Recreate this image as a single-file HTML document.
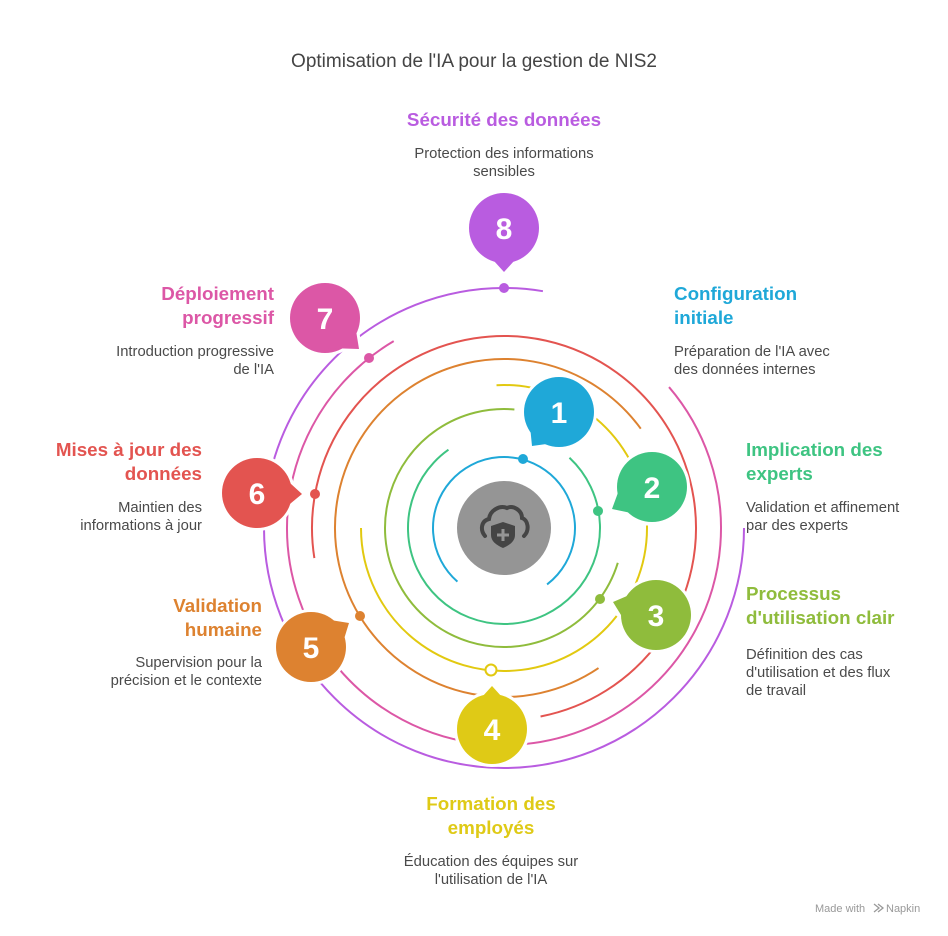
<!DOCTYPE html>
<html><head><meta charset="utf-8"><style>
body{margin:0;background:#fff;}
svg{display:block;font-family:"Liberation Sans",sans-serif;}
.h{font-weight:bold;font-size:18.8px;}
.d{font-size:14.8px;fill:#4a4a4a;}
.n{font-weight:bold;font-size:30px;fill:#fff;text-anchor:middle;}
</style></head><body>
<svg width="948" height="936" viewBox="0 0 948 936" xmlns="http://www.w3.org/2000/svg">
<rect width="948" height="936" fill="#fff"/>
<text x="474" y="67" text-anchor="middle" font-size="19" fill="#444">Optimisation de l'IA pour la gestion de NIS2</text>

<g fill="none" stroke-width="2" transform="translate(504 528)">
<circle r="71" pathLength="360" stroke="#1fa8d8" stroke-dasharray="282 400" transform="rotate(131)"/>
<circle r="96" pathLength="360" stroke="#3ec482" stroke-dasharray="282 400" transform="rotate(-47)"/>
<circle r="119" pathLength="360" stroke="#8fbc3c" stroke-dasharray="258 400" transform="rotate(17)"/>
<circle r="143" pathLength="360" stroke="#e2c910" stroke-dasharray="14 400" transform="rotate(-93)"/>
<circle r="143" pathLength="360" stroke="#e2c910" stroke-dasharray="22 400" transform="rotate(-50)"/>
<circle r="143" pathLength="360" stroke="#e2c910" stroke-dasharray="24 400" transform="rotate(-1)"/>
<circle r="143" pathLength="360" stroke="#e2c910" stroke-dasharray="142 400" transform="rotate(38)"/>
<circle r="169" pathLength="360" stroke="#dd8230" stroke-dasharray="268 400" transform="rotate(56)"/>
<circle r="192" pathLength="360" stroke="#e35450" stroke-dasharray="268 400" transform="rotate(171)"/>
<circle r="217" pathLength="360" stroke="#dc57a6" stroke-dasharray="280 400" transform="rotate(-40.5)"/>
<circle r="240" pathLength="360" stroke="#b95ce0" stroke-dasharray="279.4 400"/>
</g>

<circle cx="504" cy="528" r="47" fill="#959595"/>
<path d="M485 536 C480 530 481 521 489 519 C490 510 500 505 507 508 C513 505 522 510 522 518 C528 520 530 530 524 536" fill="none" stroke="#454545" stroke-width="4" stroke-linecap="round"/>
<path d="M503 522 L515 526 L515 535 C515 541 510 545 503 548 C496 545 491 541 491 535 L491 526 Z" fill="#454545"/>
<path d="M503 529 V541 M497 535 H509" stroke="#959595" stroke-width="3"/>

<circle cx="523" cy="459" r="5" fill="#1fa8d8"/>
<circle cx="598" cy="511" r="5" fill="#3ec482"/>
<circle cx="600" cy="599" r="5" fill="#8fbc3c"/>
<circle cx="491" cy="670" r="5.5" fill="#fff" stroke="#e2c910" stroke-width="2"/>
<circle cx="360" cy="616" r="5" fill="#dd8230"/>
<circle cx="315" cy="494" r="5" fill="#e35450"/>
<circle cx="369" cy="358" r="5" fill="#dc57a6"/>
<circle cx="504" cy="288" r="5" fill="#b95ce0"/>

<g stroke="#fff" stroke-width="6" stroke-linejoin="round">
<g fill="#1fa8d8"><circle cx="559" cy="412" r="35"/><polygon points="532,446 561,442 529,416"/></g>
<g fill="#3ec482"><circle cx="652" cy="487" r="35"/><polygon points="612,509 641,515 623,479"/></g>
<g fill="#8fbc3c"><circle cx="656" cy="615" r="35"/><polygon points="613,602 641,590 629,628"/></g>
<g fill="#dfca16"><circle cx="492" cy="729" r="35"/><polygon points="492,686 512,708 472,708"/></g>
<g fill="#dd8230"><circle cx="311" cy="647" r="35"/><polygon points="349,623 340,652 318,618"/></g>
<g fill="#e35450"><circle cx="257" cy="493" r="35"/><polygon points="302,494 279,513 279,473"/></g>
<g fill="#dc57a6"><circle cx="325" cy="318" r="35"/><polygon points="359,349 328,348 354,318"/></g>
<g fill="#b95ce0"><circle cx="504" cy="228" r="35"/><polygon points="504,272 524,250 484,250"/></g>
</g>
<g stroke="none">
<circle cx="559" cy="412" r="35" fill="#1fa8d8"/><polygon points="532,446 561,442 529,416" fill="#1fa8d8"/>
<circle cx="652" cy="487" r="35" fill="#3ec482"/><polygon points="612,509 641,515 623,479" fill="#3ec482"/>
<circle cx="656" cy="615" r="35" fill="#8fbc3c"/><polygon points="613,602 641,590 629,628" fill="#8fbc3c"/>
<circle cx="492" cy="729" r="35" fill="#dfca16"/><polygon points="492,686 512,708 472,708" fill="#dfca16"/>
<circle cx="311" cy="647" r="35" fill="#dd8230"/><polygon points="349,623 340,652 318,618" fill="#dd8230"/>
<circle cx="257" cy="493" r="35" fill="#e35450"/><polygon points="302,494 279,513 279,473" fill="#e35450"/>
<circle cx="325" cy="318" r="35" fill="#dc57a6"/><polygon points="359,349 328,348 354,318" fill="#dc57a6"/>
<circle cx="504" cy="228" r="35" fill="#b95ce0"/><polygon points="504,272 524,250 484,250" fill="#b95ce0"/>
</g>
<text class="n" x="559" y="423">1</text>
<text class="n" x="652" y="498">2</text>
<text class="n" x="656" y="626">3</text>
<text class="n" x="492" y="740">4</text>
<text class="n" x="311" y="658">5</text>
<text class="n" x="257" y="504">6</text>
<text class="n" x="325" y="329">7</text>
<text class="n" x="504" y="239">8</text>

<text class="h" x="504" y="126" text-anchor="middle" fill="#b95ce0">Sécurité des données</text>
<text class="d" x="504" y="158" text-anchor="middle">Protection des informations</text>
<text class="d" x="504" y="176" text-anchor="middle">sensibles</text>

<text class="h" x="674" y="300" fill="#1fa8d8">Configuration</text>
<text class="h" x="674" y="324" fill="#1fa8d8">initiale</text>
<text class="d" x="674" y="356">Préparation de l'IA avec</text>
<text class="d" x="674" y="374">des données internes</text>

<text class="h" x="746" y="456" fill="#3ec482">Implication des</text>
<text class="h" x="746" y="480" fill="#3ec482">experts</text>
<text class="d" x="746" y="512">Validation et affinement</text>
<text class="d" x="746" y="530">par des experts</text>

<text class="h" x="746" y="600" fill="#8fbc3c">Processus</text>
<text class="h" x="746" y="624" fill="#8fbc3c">d'utilisation clair</text>
<text class="d" x="746" y="659">Définition des cas</text>
<text class="d" x="746" y="677">d'utilisation et des flux</text>
<text class="d" x="746" y="695">de travail</text>

<text class="h" x="491" y="810" text-anchor="middle" fill="#dfca16">Formation des</text>
<text class="h" x="491" y="834" text-anchor="middle" fill="#dfca16">employés</text>
<text class="d" x="491" y="866" text-anchor="middle">Éducation des équipes sur</text>
<text class="d" x="491" y="884" text-anchor="middle">l'utilisation de l'IA</text>

<text class="h" x="262" y="612" text-anchor="end" fill="#dd8230">Validation</text>
<text class="h" x="262" y="636" text-anchor="end" fill="#dd8230">humaine</text>
<text class="d" x="262" y="667" text-anchor="end">Supervision pour la</text>
<text class="d" x="262" y="685" text-anchor="end">précision et le contexte</text>

<text class="h" x="202" y="456" text-anchor="end" fill="#e35450">Mises à jour des</text>
<text class="h" x="202" y="480" text-anchor="end" fill="#e35450">données</text>
<text class="d" x="202" y="512" text-anchor="end">Maintien des</text>
<text class="d" x="202" y="530" text-anchor="end">informations à jour</text>

<text class="h" x="274" y="300" text-anchor="end" fill="#dc57a6">Déploiement</text>
<text class="h" x="274" y="324" text-anchor="end" fill="#dc57a6">progressif</text>
<text class="d" x="274" y="356" text-anchor="end">Introduction progressive</text>
<text class="d" x="274" y="374" text-anchor="end">de l'IA</text>

<text x="815" y="912" font-size="11" fill="#999">Made with</text>
<path d="M874 904 l5 4 l-5 4 M878 904 l5 4 l-5 4" stroke="#999" stroke-width="1.3" fill="none"/>
<text x="886" y="912" font-size="11" fill="#999">Napkin</text>
</svg>
</body></html>
